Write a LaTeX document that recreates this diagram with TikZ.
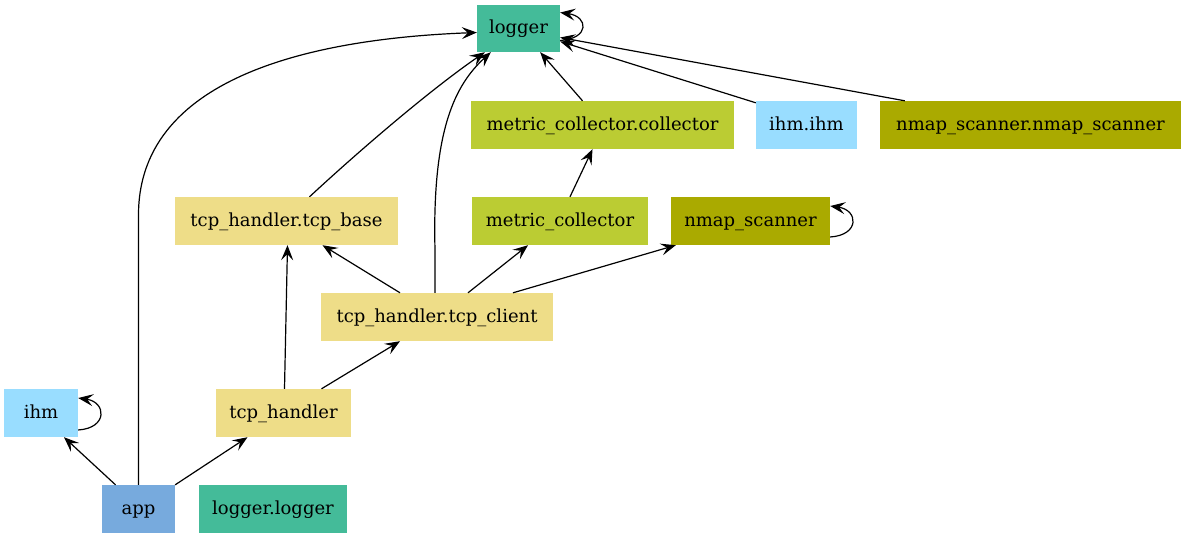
\documentclass[tikz,border=0pt]{standalone}
\usepackage{fontspec}
\setmainfont{DejaVu Serif}
\usetikzlibrary{arrows.meta,calc}
\definecolor{cmint}{HTML}{44BB99}
\definecolor{cpear}{HTML}{BBCC33}
\definecolor{colive}{HTML}{AAAA00}
\definecolor{ccyan}{HTML}{99DDFF}
\definecolor{cyell}{HTML}{EEDD88}
\definecolor{cblue}{HTML}{77AADD}
\tikzset{
  mod/.style={rectangle, inner sep=0pt, minimum height=48pt, text height=13pt, text depth=3pt, font=\fontsize{18}{22}\selectfont},
  dep/.style={line width=1.2pt, -{Stealth[length=15pt,width=12pt,inset=6pt]}},
}
\begin{document}
\begin{tikzpicture}[x=1pt,y=-1pt]
\useasboundingbox (0,0) rectangle (1186,539);
\node[mod, fill=cmint, minimum width=83pt, minimum height=47pt] (logger) at (518.5,28.5) {logger};
\node[mod, fill=cpear, minimum width=263pt] (mcc) at (602.5,125) {metric\_collector.collector};
\node[mod, fill=ccyan, minimum width=101pt] (ihmihm) at (806.5,125) {ihm.ihm};
\node[mod, fill=colive, minimum width=301pt] (nsns) at (1030.5,125) {nmap\_scanner.nmap\_scanner};
\node[mod, fill=cyell, minimum width=223pt] (tcpbase) at (286.5,221) {tcp\_handler.tcp\_base};
\node[mod, fill=cpear, minimum width=176pt] (mc) at (560,221) {metric\_collector};
\node[mod, fill=colive, minimum width=159pt] (ns) at (750.5,221) {nmap\_scanner};
\node[mod, fill=cyell, minimum width=232pt] (tcpclient) at (437,317) {tcp\_handler.tcp\_client};
\node[mod, fill=ccyan, minimum width=74pt] (ihm) at (41,413) {ihm};
\node[mod, fill=cyell, minimum width=135pt] (tcph) at (283.5,413) {tcp\_handler};
\node[mod, fill=cblue, minimum width=73pt] (app) at (138.5,509) {app};
\node[mod, fill=cmint, minimum width=148pt] (loggerlogger) at (273,509) {logger.logger};

% self loops
\draw[dep] ([yshift=-12pt]logger.east) .. controls +(30,-2) and +(28,4) .. ([yshift=16pt]logger.east);
\draw[dep] ([yshift=-16pt]ns.east) .. controls +(30,-2) and +(28,4) .. ([yshift=15pt]ns.east);
\draw[dep] ([yshift=-17pt]ihm.east) .. controls +(30,-2) and +(28,4) .. ([yshift=15pt]ihm.east);

% edges into logger
\draw[dep] (app.north) -- (138.5,215) .. controls (138.5,70) and (330,38) .. ([yshift=-4pt]logger.west);
\draw[dep] ([xshift=23pt]tcpbase.north) .. controls (360,150) and (430,90) .. ([xshift=8pt]logger.south west);
\draw[dep] ([xshift=-2pt]tcpclient.north) -- (435,250) .. controls (432,130) and (455,85) .. ([xshift=14pt]logger.south west);
\draw[dep] ([xshift=-20pt]mcc.north) -- ([xshift=-20pt]logger.south east);
\draw[dep] ([yshift=-2pt]ihmihm.north west) -- ([yshift=-13pt]logger.east);
\draw[dep] ([xshift=25pt]nsns.north west) -- ([yshift=-9pt]logger.east);

% other edges
\draw[dep] ([xshift=10pt]mc.north) -- ([xshift=-10pt]mcc.south);
\draw[dep] ([xshift=-37pt]tcpclient.north) -- ([xshift=36pt]tcpbase.south);
\draw[dep] ([xshift=31pt]tcpclient.north) -- ([xshift=-32pt]mc.south);
\draw[dep] ([xshift=76pt]tcpclient.north) -- ([xshift=5pt]ns.south west);
\draw[dep] ([xshift=38pt]tcph.north) -- ([xshift=-37pt]tcpclient.south);
\draw[dep] ([xshift=1pt]tcph.north) -- ([xshift=1pt]tcpbase.south);
\draw[dep] ([xshift=-23pt]app.north) -- ([xshift=23pt]ihm.south);
\draw[dep] (app.north east) -- ([xshift=-36pt]tcph.south);
\end{tikzpicture}
\end{document}
